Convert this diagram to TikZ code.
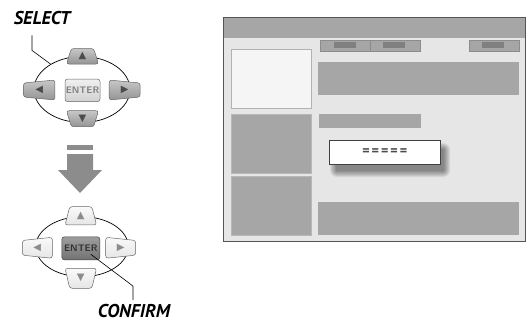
\documentclass[tikz,border=0pt]{standalone}
\usepackage{fontspec}
\setmainfont{PT Sans}
\newfontfamily\symfont{DejaVu Sans}
\usetikzlibrary{shapes.geometric, calc}
\definecolor{panelgray}{HTML}{A6A6A6}
\definecolor{screenbg}{HTML}{E6E6E6}
\definecolor{tabbar}{HTML}{808080}
\definecolor{framegray}{HTML}{555555}
\definecolor{arrowgray}{HTML}{8C8C8C}
\begin{document}
\begin{tikzpicture}[x=1pt, y=-1pt,
  pad/.style={ellipse, draw=black, line width=0.7pt, inner sep=0pt},
  key/.style={trapezium, trapezium angle=78, trapezium stretches=true, rounded corners=2.5pt,
              draw=black!60, line width=0.5pt, inner sep=0pt, font=\symfont\fontsize{10}{10}\selectfont},
  keyon/.style={key, top color=black!22, bottom color=black!42, text=black!70},
  keyoff/.style={key, top color=black!2, bottom color=black!10, text=black!45},
  enter/.style={rectangle, rounded corners=2.5pt, draw=black!60, line width=0.5pt,
                inner sep=0pt, font=\sffamily\bfseries\fontsize{9.5}{10}\selectfont},
  tag/.style={font=\bfseries\itshape\fontsize{18.5}{18.5}\selectfont, inner sep=1pt},
  lead/.style={line width=0.6pt},
  block/.style={fill=panelgray},
]
\useasboundingbox (0,0) rectangle (528,322);

\node[pad, minimum width=96pt, minimum height=66pt] (pad1) at (82,89.5) {};
\node[keyon, minimum width=32pt, minimum height=15.5pt] (up1) at (82.5,56.3) {▲};
\node[keyon, shape border rotate=180, minimum width=32pt, minimum height=16pt] (down1) at (82.5,118.7) {▼};
\node[keyon, shape border rotate=90, minimum width=20pt, minimum height=31.5pt] (left1) at (39.2,90) {◀};
\node[keyon, shape border rotate=270, minimum width=20pt, minimum height=31pt] (right1) at (124.7,90) {▶};
\node[enter, top color=black!6, bottom color=black!18, text=black!50,
      minimum width=35pt, minimum height=22.5pt] (ent1) at (82.5,90.3) {ENTER};

\node[tag] (sel) at (42,18.5) {SELECT};
\draw[lead] ($(sel.south)+(-10,9)$) -- ++(0,15) -- (pad1.141);

\fill[arrowgray] (67,145) rectangle (93,150);
\fill[arrowgray] (67,154) -- (93,154) -- (93,170) -- (102,170) -- (80,193) -- (58,170) -- (67,170) -- cycle;

\node[pad, minimum width=92.5pt, minimum height=60pt] (pad2) at (82,246.7) {};
\node[keyoff, minimum width=31.5pt, minimum height=18.3pt] (up2) at (80.8,215.8) {▲};
\node[keyoff, shape border rotate=180, minimum width=31.5pt, minimum height=20pt] (down2) at (80.8,278.3) {▼};
\node[keyoff, shape border rotate=90, minimum width=21pt, minimum height=30pt] (left2) at (37.3,247.8) {◀};
\node[keyoff, shape border rotate=270, minimum width=21pt, minimum height=30pt] (right2) at (120.7,247.8) {▶};
\node[enter, top color=black!38, bottom color=black!55, draw=black!75, text=black!80,
      minimum width=38pt, minimum height=23pt] (ent2) at (80.8,248.3) {ENTER};

\node[tag] (conf) at (134,311) {CONFIRM};
\draw[lead] ($(ent2.center)+(10,6)$) -- ($(conf.north)+(-1,-17)$) -- ($(conf.north)+(-1,-3)$);

\filldraw[fill=screenbg, draw=framegray, line width=1pt] (223,17) rectangle (525.5,241.5);
\fill[panelgray] (223.5,17.5) rectangle (525,38.3);
\filldraw[block, draw=black!45] (320,40) rectangle (370,50.7);
\filldraw[block, draw=black!45] (370,40) rectangle (419.7,50.7);
\filldraw[block, draw=black!45] (469,40) rectangle (519,50.7);
\fill[tabbar] (334,42.3) rectangle (356,47.7);
\fill[tabbar] (382.7,42.3) rectangle (405,47.7);
\fill[tabbar] (481.7,42.3) rectangle (504.3,47.7);
\filldraw[fill=black!4, draw=black!30, line width=1pt] (231,49) rectangle (311.7,108.7);
\filldraw[block, draw=black!28, line width=0.8pt] (231,114.3) rectangle (311.7,173);
\filldraw[block, draw=black!28, line width=0.8pt] (231,176.7) rectangle (311.7,235);
\fill[panelgray] (318,62) rectangle (519,95);
\fill[panelgray] (319,114) rectangle (421,128);
\fill[panelgray] (318,202) rectangle (519,235);
\foreach \b in {1,...,7}
  \fill[black, opacity=0.07, rounded corners=\b pt] ({337-\b},{150-\b}) rectangle ({443+\b},{170+\b});
\node[draw=black!75, fill=white, line width=0.6pt, minimum width=110.7pt, minimum height=24.4pt,
      font=\bfseries\fontsize{14}{14}\selectfont, text=black!70] (dlg) at (384.7,152.5) {=\kern2pt=\kern2pt=\kern2pt=\kern2pt=};
\end{tikzpicture}
\end{document}
